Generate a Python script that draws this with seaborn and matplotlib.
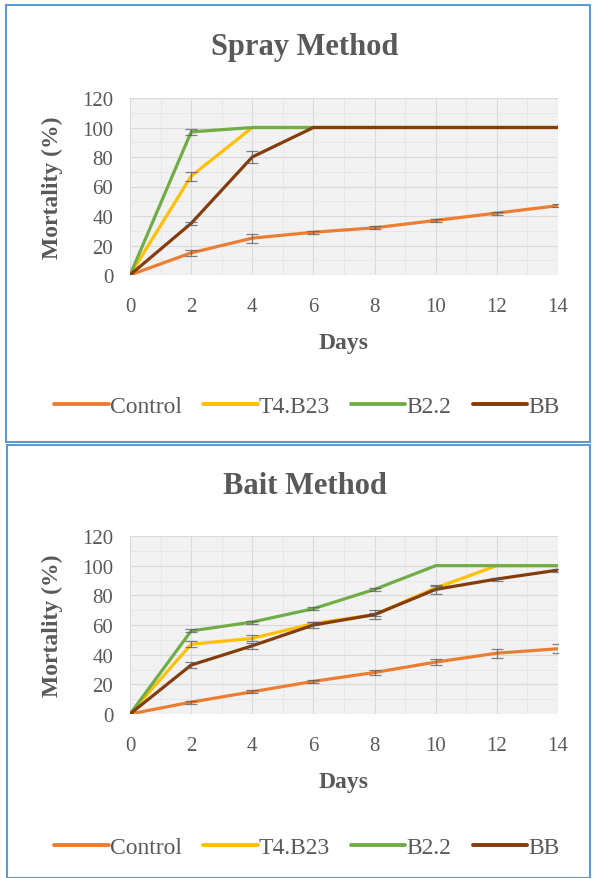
import numpy as np
import pandas as pd
import matplotlib.pyplot as plt
import seaborn as sns
from matplotlib.patches import Rectangle
from matplotlib.ticker import MultipleLocator

# Dados
dias = [0, 2, 4, 6, 8, 10, 12, 14]
tratamentos = ['Control', 'T4.B23', 'B2.2', 'BB']
cores = ['#ED7D31', '#FFC000', '#70AD47', '#843C0C']

spray_control = [0, 15, 25, 29, 32, 37, 42, 47]
spray_t4b23 = [0, 67, 100, 100, 100, 100, 100, 100]
spray_b22 = [0, 97, 100, 100, 100, 100, 100, 100]
spray_bb = [0, 35, 80, 100, 100, 100, 100, 100]
spray_erro = {
    'Control': [0, 2, 3, 1, 1, 1, 1, 1],
    'T4.B23': [0, 3, 0, 0, 0, 0, 0, 0],
    'B2.2': [0, 2, 0, 0, 0, 0, 0, 0],
    'BB': [0, 1, 4, 0, 0, 0, 0, 0],
}

bait_control = [0, 8, 15, 22, 28, 35, 41, 44]
bait_t4b23 = [0, 47, 51, 61, 67, 85, 100, 100]
bait_b22 = [0, 56, 62, 71, 84, 100, 100, 100]
bait_bb = [0, 33, 46, 60, 67, 84, 91, 97]
bait_erro = {
    'Control': [0, 1, 1, 1, 2, 2, 3, 3],
    'T4.B23': [0, 2, 2, 1, 1, 1, 0, 0],
    'B2.2': [0, 1, 1, 1, 1, 0, 0, 0],
    'BB': [0, 2, 2, 2, 3, 3, 1, 1],
}


def montar_df(series, erros):
    linhas = []
    for nome, valores in zip(tratamentos, series):
        for d, v, e in zip(dias, valores, erros[nome]):
            linhas.append({'Days': d, 'Mortality': v, 'erro': e, 'tratamento': nome})
    return pd.DataFrame(linhas)


df_spray = montar_df([spray_control, spray_t4b23, spray_b22, spray_bb], spray_erro)
df_bait = montar_df([bait_control, bait_t4b23, bait_b22, bait_bb], bait_erro)

sns.set_theme(style='white')
plt.rcParams['font.family'] = ['Liberation Serif', 'DejaVu Serif']
cinza = '#595959'

fig = plt.figure(figsize=(5.93, 8.79), dpi=100)

# Molduras azuis dos dois painéis
fig.patches.append(Rectangle((6 / 593, 1 - 443 / 879), 584 / 593, 437 / 879,
                             transform=fig.transFigure, fill=False,
                             edgecolor='#5B9BD5', linewidth=1.5))
fig.patches.append(Rectangle((7 / 593, 0), 583 / 593, 1 - 446 / 879,
                             transform=fig.transFigure, fill=False,
                             edgecolor='#5B9BD5', linewidth=1.5))

paineis = [
    (df_spray, 'Spray Method', [130 / 593, 1 - 276 / 879, 428 / 593, 177 / 879], 47, 407),
    (df_bait, 'Bait Method', [130 / 593, 1 - 715 / 879, 428 / 593, 178 / 879], 487, 848),
]

for df, titulo, pos, y_titulo, y_legenda in paineis:
    ax = fig.add_axes(pos)
    ax.set_facecolor('#F2F2F2')
    sns.lineplot(data=df, x='Days', y='Mortality', hue='tratamento',
                 hue_order=tratamentos, palette=cores, linewidth=2.3,
                 ax=ax, legend=False, zorder=3)
    for nome, cor in zip(tratamentos, cores):
        sub = df[df['tratamento'] == nome]
        sub = sub[sub['erro'] > 0]
        ax.errorbar(sub['Days'], sub['Mortality'], yerr=sub['erro'], fmt='none',
                    ecolor=cinza, elinewidth=0.9, capsize=4, capthick=0.9,
                    alpha=0.75, zorder=4)
    ax.set_xlim(0, 14)
    ax.set_ylim(0, 120)
    ax.xaxis.set_major_locator(MultipleLocator(2))
    ax.yaxis.set_major_locator(MultipleLocator(20))
    ax.xaxis.set_minor_locator(MultipleLocator(1))
    ax.yaxis.set_minor_locator(MultipleLocator(10))
    ax.grid(which='major', color='#DADADA', linewidth=0.8)
    ax.grid(which='minor', color='#E6E6E6', linewidth=0.6)
    ax.set_axisbelow(True)
    for lado in ax.spines.values():
        lado.set_visible(False)
    ax.tick_params(axis='both', which='both', length=0, labelsize=15,
                   labelcolor=cinza)
    ax.tick_params(axis='x', pad=16)
    ax.tick_params(axis='y', pad=12)
    ax.set_xlabel('Days', fontsize=17, fontweight='bold', color=cinza)
    ax.set_ylabel('Mortality (%)', fontsize=17, fontweight='bold', color=cinza)
    ax.xaxis.set_label_coords(0.5, -0.32)
    ax.yaxis.set_label_coords(-0.157, 0.5)
    fig.text(305 / 593, 1 - y_titulo / 879, titulo, ha='center', va='center',
             fontsize=22, fontweight='bold', color=cinza)
    alcas = [plt.Line2D([], [], color=c, linewidth=2.8) for c in cores]
    fig.legend(alcas, tratamentos, loc='center', ncol=4,
               bbox_to_anchor=(307 / 593, 1 - y_legenda / 879), frameon=False,
               fontsize=17, labelcolor=cinza, handlelength=2.3,
               handletextpad=0.05, columnspacing=0.9)

fig.savefig('out.png', dpi=100)
